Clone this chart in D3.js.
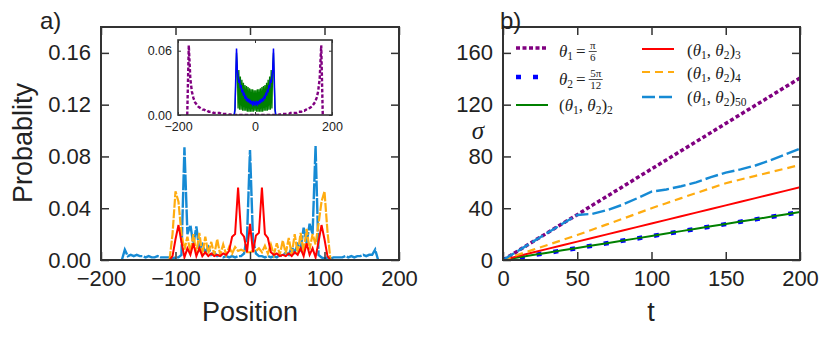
<!DOCTYPE html>
<html>
<head>
<meta charset="utf-8">
<script src="https://cdn.jsdelivr.net/npm/d3@7"></script>
<style>
  body { margin: 0; background: #fff; }
  text { font-family: "Liberation Sans", Arial, sans-serif; fill: #222; }
  .math { font-family: "Liberation Serif", "DejaVu Serif", serif; }
</style>
</head>
<body>
<svg id="chart" width="830" height="338"></svg>
<script>
// panel a: probability distribution at t = 200
const posOuter = d3.range(-172, 173, 4);
const posInner = d3.range(-108, 109, 4);
const probMulti50 = [
  0, 0.008, 0.003, 0.004, 0.003, 0.004, 0.003, 0.003, 0.002, 0.003, 0.002, 0.002, 0.003, 0.002,
  0.002, 0.002, 0.002, 0.001, 0.002, 0.002, 0.004, 0.087, 0.02, 0.027, 0.012, 0.026, 0.008, 0.012,
  0.006, 0.01, 0.004, 0.006, 0.003, 0.004, 0.002, 0.003, 0.002, 0.003, 0.002, 0.003, 0.003, 0.005,
  0.018,
  0.085,
  0.016, 0.005, 0.003, 0.003, 0.002, 0.003, 0.002, 0.003, 0.002, 0.004, 0.003, 0.006, 0.004, 0.01,
  0.006, 0.012, 0.008, 0.025, 0.013, 0.028, 0.02, 0.088, 0.004, 0.002, 0.001, 0.002, 0.001, 0.002,
  0.002, 0.002, 0.002, 0.003, 0.002, 0.003, 0.002, 0.003, 0.003, 0.004, 0.003, 0.004, 0.004, 0.008,
  0
];
const probMulti4 = [
  0, 0.02, 0.053, 0.045, 0.02, 0.008, 0.018, 0.006, 0.02, 0.005, 0.021, 0.004, 0.018, 0.005,
  0.014, 0.004, 0.016, 0.004, 0.012, 0.004, 0.01, 0.005, 0.01, 0.007, 0.008, 0.007, 0.006,
  0.006,
  0.007, 0.007, 0.009, 0.006, 0.011, 0.005, 0.012, 0.004, 0.013, 0.004, 0.015, 0.005, 0.017,
  0.004, 0.02, 0.005, 0.021, 0.006, 0.024, 0.008, 0.02, 0.012, 0.028, 0.045, 0.053, 0.022, 0
];
const probMulti3 = [
  0, 0.003, 0.016, 0.027, 0.014, 0.002, 0.009, 0.004, 0.013, 0.003, 0.009, 0.003, 0.006, 0.003,
  0.005, 0.003, 0.004, 0.003, 0.005, 0.004, 0.007, 0.018, 0.02, 0.056, 0.021, 0.018, 0.006,
  0.028,
  0.006, 0.019, 0.021, 0.056, 0.02, 0.017, 0.006, 0.004, 0.005, 0.003, 0.004, 0.003, 0.005,
  0.003, 0.006, 0.004, 0.009, 0.003, 0.013, 0.004, 0.009, 0.002, 0.014, 0.027, 0.016, 0.003, 0
];

// inset: single coins and the two-coin walk
const posInsetWide = d3.range(-176, 177, 4);
const posInsetNarrow = d3.range(-56, 57, 2);
const probTheta1 = [
  0, 0.065, 0.034, 0.022, 0.016, 0.012, 0.01, 0.008, 0.007, 0.006, 0.005, 0.005, 0.004, 0.004,
  0.003, 0.003, 0.003, 0.002, 0.002, 0.002, 0.002, 0.002, 0.001, 0.001, 0.001, 0.001, 0.001,
  0.0005, 0.0005, 0, 0, 0, 0, 0, 0, 0, 0, 0, 0, 0, 0, 0, 0, 0,
  0,
  0, 0, 0, 0, 0, 0, 0, 0, 0, 0, 0, 0, 0, 0, 0, 0.0005, 0.0005, 0.001, 0.001, 0.001, 0.001,
  0.001, 0.002, 0.002, 0.002, 0.002, 0.002, 0.003, 0.003, 0.003, 0.004, 0.004, 0.005, 0.005,
  0.006, 0.007, 0.008, 0.01, 0.012, 0.016, 0.022, 0.034, 0.065, 0
];
const probTheta2 = [
  0, 0, 0.006, 0.035, 0.062, 0.042, 0.036, 0.03, 0.033, 0.025, 0.028, 0.021, 0.024, 0.018,
  0.021, 0.015, 0.018, 0.013, 0.016, 0.012, 0.015, 0.011, 0.014, 0.01, 0.013, 0.01, 0.012, 0.01,
  0.012,
  0.01, 0.012, 0.01, 0.013, 0.01, 0.014, 0.011, 0.015, 0.012, 0.016, 0.013, 0.018, 0.015, 0.021,
  0.018, 0.024, 0.021, 0.028, 0.025, 0.033, 0.03, 0.036, 0.042, 0.062, 0.035, 0.006, 0, 0
];
const probMulti2 = [
  0, 0, 0.004, 0.03, 0.058, 0.045, 0.006, 0.042, 0.005, 0.036, 0.005, 0.033, 0.004, 0.03,
  0.004, 0.028, 0.004, 0.027, 0.003, 0.026, 0.003, 0.025, 0.003, 0.024, 0.003, 0.024, 0.003, 0.023,
  0.004,
  0.023, 0.003, 0.024, 0.003, 0.024, 0.003, 0.025, 0.003, 0.026, 0.003, 0.027, 0.004, 0.028,
  0.004, 0.03, 0.004, 0.033, 0.005, 0.036, 0.005, 0.042, 0.006, 0.045, 0.058, 0.03, 0.004, 0, 0
];

// panel b: standard deviation against time
const times = d3.range(0, 201, 10);
const sigmaTheta1 = [0, 7.0, 14.1, 21.1, 28.1, 35.0, 42.2, 49.2, 56.2, 63.3, 70.3, 77.3, 84.4, 91.4, 98.4, 105.5, 112.5, 119.5, 126.5, 133.6, 140.6];
const sigmaTheta2 = [0, 1.8, 3.7, 5.5, 7.4, 9.2, 11.1, 12.9, 14.8, 16.6, 18.5, 20.3, 22.2, 24.0, 25.9, 27.7, 29.6, 31.4, 33.3, 35.1, 37.0];
const sigmaMulti2 = [0, 2.0, 3.8, 5.6, 7.5, 9.3, 11.2, 13.0, 14.9, 16.7, 18.6, 20.4, 22.3, 24.1, 26.0, 27.8, 29.7, 31.5, 33.4, 35.2, 37.1];
const sigmaMulti3 = [0, 3.0, 5.8, 8.6, 11.4, 14.2, 17.0, 19.8, 22.6, 25.4, 28.2, 31.0, 33.8, 36.6, 39.4, 42.2, 45.0, 47.8, 50.6, 53.4, 56.2];
const sigmaMulti4 = [0, 4.0, 7.8, 11.6, 15.4, 19.3, 23.4, 27.5, 31.6, 35.8, 40.0, 43.9, 47.8, 51.7, 55.5, 59.3, 62.2, 65.0, 67.8, 70.6, 73.4];
const sigmaMulti50 = [0, 7.0, 14.0, 21.0, 28.0, 34.8, 35.6, 38.5, 42.5, 47.5, 52.8, 54.5, 57.0, 60.0, 64.0, 67.5, 70.0, 73.0, 77.0, 81.5, 86.0];

const ticksPos = [-200, -100, 0, 100, 200];
const ticksProb = [0, 0.04, 0.08, 0.12, 0.16];
const ticksInsetPos = [-200, 0, 200];
const ticksInsetProb = [0, 0.06];
const ticksTime = [0, 50, 100, 150, 200];
const ticksSigma = [0, 40, 80, 120, 160];

const col = {
  theta1: "#800080", theta2: "#0000ff", multi2: "#008000",
  multi3: "#ff0000", multi4: "#ffac10", multi50: "#168ad4"
};

const svg = d3.select("#chart");

function frame(g, x, y, sw) {
  const [x0, x1] = x.range(), [y0, y1] = y.range();
  g.append("rect")
    .attr("x", x0).attr("y", y1)
    .attr("width", x1 - x0).attr("height", y0 - y1)
    .attr("fill", "none").attr("stroke", "#333").attr("stroke-width", sw);
}

function axes(g, x, y, opt) {
  const [x0, x1] = x.range(), [y0, y1] = y.range();
  const size = opt.size, fs = opt.fontSize;
  const bottom = g.append("g").attr("transform", `translate(0,${y0})`)
    .call(d3.axisBottom(x).tickValues(opt.xt).tickSize(-size).tickPadding(opt.padX).tickFormat(opt.xf));
  const left = g.append("g").attr("transform", `translate(${x0},0)`)
    .call(d3.axisLeft(y).tickValues(opt.yt).tickSize(-size).tickPadding(opt.padY).tickFormat(opt.yf));
  const top = g.append("g").attr("transform", `translate(0,${y1})`)
    .call(d3.axisTop(x).tickValues(opt.xt).tickSize(-size).tickFormat(""));
  const right = g.append("g").attr("transform", `translate(${x1},0)`)
    .call(d3.axisRight(y).tickValues(opt.yt).tickSize(-size).tickFormat(""));
  [bottom, left, top, right].forEach(a => {
    a.select(".domain").remove();
    a.selectAll("line").attr("stroke", "#333").attr("stroke-width", opt.tickW);
    a.selectAll("text").attr("font-size", fs).attr("fill", "#222")
      .style("font-family", '"Liberation Sans", Arial, sans-serif');
  });
}

function drawLine(g, xs, ys, x, y, style) {
  const line = d3.line().x(d => x(d[0])).y(d => y(d[1]));
  g.append("path")
    .datum(d3.zip(xs, ys))
    .attr("d", line)
    .attr("fill", "none")
    .attr("stroke", style.color)
    .attr("stroke-width", style.width)
    .attr("stroke-dasharray", style.dash || null)
    .attr("stroke-linejoin", "miter")
    .attr("stroke-linecap", "butt");
}

// ---------- panel a ----------
const xA = d3.scaleLinear([-200, 200], [101, 399]);
const yA = d3.scaleLinear([0, 0.18], [260, 27]);
const gA = svg.append("g");
svg.append("clipPath").attr("id", "clipA").append("rect")
  .attr("x", 101).attr("y", 27).attr("width", 298).attr("height", 233);
const linesA = gA.append("g").attr("clip-path", "url(#clipA)");
drawLine(linesA, posOuter, probMulti50, xA, yA, { color: col.multi50, width: 2.4, dash: "16,1.5" });
drawLine(linesA, posInner, probMulti4, xA, yA, { color: col.multi4, width: 2.2, dash: "9,1.5" });
drawLine(linesA, posInner, probMulti3, xA, yA, { color: col.multi3, width: 2 });
axes(gA, xA, yA, {
  xt: ticksPos, yt: ticksProb, size: 8, fontSize: 22, padX: 10, padY: 10, tickW: 1.5,
  xf: d3.format("d"), yf: d3.format(".2f")
});
frame(gA, xA, yA, 2);

gA.append("text").attr("x", 40).attr("y", 29).attr("font-size", 24).text("a)");
gA.append("text").attr("x", 250).attr("y", 321).attr("text-anchor", "middle")
  .attr("font-size", 27).text("Position");
gA.append("text").attr("transform", "translate(32,143) rotate(-90)")
  .attr("text-anchor", "middle").attr("font-size", 27).text("Probablity");

// inset
const xI = d3.scaleLinear([-200, 200], [178, 332]);
const yI = d3.scaleLinear([0, 0.07], [115, 40]);
const gI = svg.append("g");
gI.append("rect").attr("x", 178).attr("y", 40).attr("width", 154).attr("height", 75).attr("fill", "#fff");
svg.append("clipPath").attr("id", "clipI").append("rect")
  .attr("x", 178).attr("y", 40).attr("width", 154).attr("height", 75);
const linesI = gI.append("g").attr("clip-path", "url(#clipI)");
drawLine(linesI, posInsetWide, probTheta1, xI, yI, { color: col.theta1, width: 2.4, dash: "3.5,2" });
drawLine(linesI, posInsetNarrow, probMulti2, xI, yI, { color: col.multi2, width: 1.3 });
drawLine(linesI, posInsetNarrow, probTheta2, xI, yI, { color: col.theta2, width: 1.5 });
axes(gI, xI, yI, {
  xt: ticksInsetPos, yt: ticksInsetProb, size: 3, fontSize: 12.5, padX: 7, padY: 6, tickW: 1,
  xf: d3.format("d"), yf: d3.format(".2f")
});
frame(gI, xI, yI, 1.6);

// ---------- panel b ----------
const xB = d3.scaleLinear([0, 200], [503, 800]);
const yB = d3.scaleLinear([0, 180], [260, 27]);
const gB = svg.append("g");
svg.append("clipPath").attr("id", "clipB").append("rect")
  .attr("x", 503).attr("y", 27).attr("width", 297).attr("height", 233);
const linesB = gB.append("g").attr("clip-path", "url(#clipB)");

const seriesB = [
  { ys: sigmaTheta1, color: col.theta1, width: 3.5, dash: "4,2.5" },
  { ys: sigmaTheta2, color: col.theta2, width: 4.5, dash: "5,12" },
  { ys: sigmaMulti2, color: col.multi2, width: 2 },
  { ys: sigmaMulti3, color: col.multi3, width: 2 },
  { ys: sigmaMulti4, color: col.multi4, width: 2.2, dash: "8,5" },
  { ys: sigmaMulti50, color: col.multi50, width: 2.4, dash: "13,4" }
];
seriesB.forEach(s => drawLine(linesB, times, s.ys, xB, yB, s));

axes(gB, xB, yB, {
  xt: ticksTime, yt: ticksSigma, size: 8, fontSize: 22, padX: 10, padY: 10, tickW: 1.5,
  xf: d3.format("d"), yf: d3.format("d")
});
frame(gB, xB, yB, 2);

gB.append("text").attr("x", 500).attr("y", 29).attr("font-size", 24).text("b)");
gB.append("text").attr("x", 651).attr("y", 321).attr("text-anchor", "middle")
  .attr("font-size", 27).text("t");
gB.append("text").attr("class", "math").attr("x", 478).attr("y", 139)
  .attr("text-anchor", "middle").attr("font-size", 25).attr("font-style", "italic").text("σ");

// legend
const legendRows = [
  { s: seriesB[0], x: 516, y: 48, tx: 559, ty: 57, kind: "frac", sub: "1", num: "π", den: "6" },
  { s: seriesB[1], x: 516, y: 77, tx: 559, ty: 85, kind: "frac", sub: "2", num: "5π", den: "12" },
  { s: seriesB[2], x: 516, y: 105, tx: 559, ty: 111, kind: "pair", sub: "2" },
  { s: seriesB[3], x: 642, y: 49, tx: 687, ty: 56, kind: "pair", sub: "3" },
  { s: seriesB[4], x: 642, y: 72, tx: 687, ty: 79, kind: "pair", sub: "4" },
  { s: seriesB[5], x: 642, y: 97, tx: 687, ty: 103, kind: "pair", sub: "50" }
];
const gL = gB.append("g");
legendRows.forEach(r => {
  gL.append("line")
    .attr("x1", r.x).attr("x2", r.x + 32).attr("y1", r.y).attr("y2", r.y)
    .attr("stroke", r.s.color).attr("stroke-width", r.s.width)
    .attr("stroke-dasharray", r.s.dash || null);
  const t = gL.append("text").attr("class", "math").attr("x", r.tx).attr("y", r.ty)
    .attr("font-size", 17).attr("fill", "#222");
  if (r.kind === "pair") {
    t.append("tspan").text("(");
    t.append("tspan").attr("font-style", "italic").text("θ");
    t.append("tspan").attr("font-size", 11.5).attr("dy", 3).text("1");
    t.append("tspan").attr("dy", -3).text(", ");
    t.append("tspan").attr("font-style", "italic").text("θ");
    t.append("tspan").attr("font-size", 11.5).attr("dy", 3).text("2");
    t.append("tspan").attr("dy", -3).text(")");
    t.append("tspan").attr("font-size", 11.5).attr("dy", 3).text(r.sub);
  } else {
    t.append("tspan").attr("font-style", "italic").text("θ");
    t.append("tspan").attr("font-size", 11.5).attr("dy", 3).text(r.sub);
    t.append("tspan").attr("dy", -3).attr("dx", 3).text("=");
    const w = t.node().getComputedTextLength();
    const fw = r.num.length > 1 ? 14 : 8;
    const fx = r.tx + w + 3 + 3 + fw / 2;
    gL.append("text").attr("class", "math").attr("x", fx).attr("y", r.ty - 8)
      .attr("text-anchor", "middle").attr("font-size", 11).text(r.num);
    gL.append("line").attr("x1", fx - fw / 2).attr("x2", fx + fw / 2)
      .attr("y1", r.ty - 5.5).attr("y2", r.ty - 5.5).attr("stroke", "#222").attr("stroke-width", 0.8);
    gL.append("text").attr("class", "math").attr("x", fx).attr("y", r.ty + 4)
      .attr("text-anchor", "middle").attr("font-size", 11).text(r.den);
  }
});
</script>
</body>
</html>
